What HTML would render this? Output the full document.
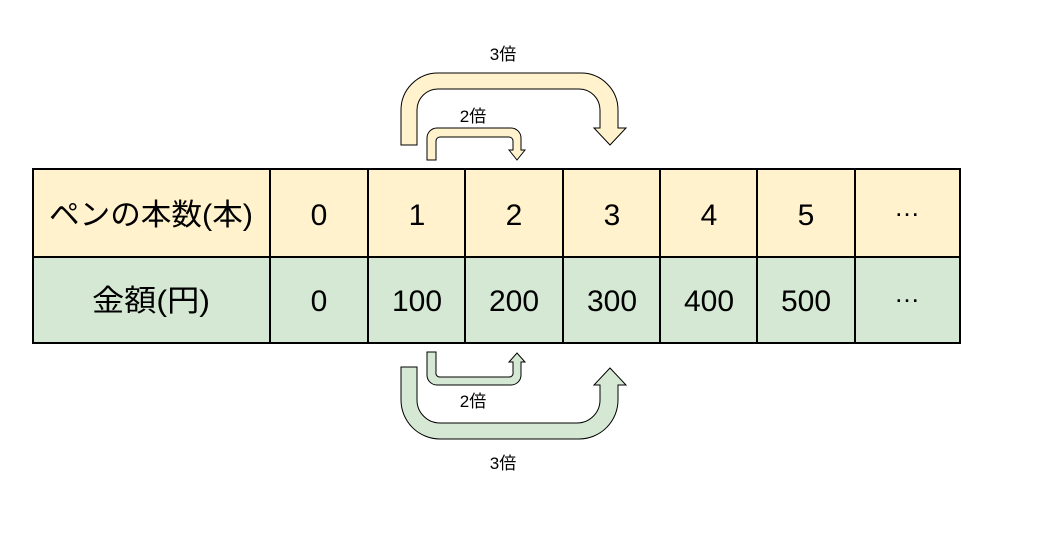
<!DOCTYPE html>
<html><head><meta charset="utf-8"><style>
html,body{margin:0;padding:0;background:#fff;}
svg{display:block;}
text{font-family:"Liberation Sans","Noto Sans CJK JP",sans-serif;fill:#000;}
</style></head><body>
<svg width="1051" height="542" viewBox="0 0 1051 542" xmlns="http://www.w3.org/2000/svg">
<rect x="33" y="169" width="927" height="88" fill="#fff2cc"/>
<rect x="33" y="257" width="927" height="86" fill="#d5e8d4"/>
<g stroke="#000" stroke-width="2" fill="none">
<rect x="33" y="169" width="927" height="174"/>
<line x1="33" y1="257" x2="960" y2="257"/>
<line x1="270" y1="169" x2="270" y2="343"/>
<line x1="368" y1="169" x2="368" y2="343"/>
<line x1="465" y1="169" x2="465" y2="343"/>
<line x1="563" y1="169" x2="563" y2="343"/>
<line x1="660" y1="169" x2="660" y2="343"/>
<line x1="757" y1="169" x2="757" y2="343"/>
<line x1="855" y1="169" x2="855" y2="343"/>
</g>
<g font-size="30" text-anchor="middle">
<text x="151" y="225" textLength="204" lengthAdjust="spacingAndGlyphs">ペンの本数(本)</text>
<text x="319" y="225">0</text><text x="417" y="225">1</text><text x="514" y="225">2</text>
<text x="612" y="225">3</text><text x="709" y="225">4</text><text x="806" y="225">5</text>
<text x="907" y="216" font-size="26">…</text>
<text x="151" y="311" textLength="118" lengthAdjust="spacingAndGlyphs">金額(円)</text>
<text x="319" y="311">0</text><text x="417" y="311">100</text><text x="514" y="311">200</text>
<text x="612" y="311">300</text><text x="709" y="311">400</text><text x="806" y="311">500</text>
<text x="907" y="302" font-size="26">…</text>
</g>
<g fill="#fff2cc" stroke="#000" stroke-width="1">
<path d="M401,145 V110 A37,37 0 0 1 438,73 H581 A37,37 0 0 1 618,110 V128 H626 L610,145 L594,128 H600 V110 A21,21 0 0 0 579,89 H438 A21,21 0 0 0 417,110 V145 Z"/>
<path d="M427,160 V138 A10,10 0 0 1 437,128 H511 A10,10 0 0 1 521,138 V150 H525 L517,160 L509,150 H513 V141 A4,4 0 0 0 509,137 H440 A4,4 0 0 0 436,141 V160 Z"/>
<path fill="#d5e8d4" d="M427,352 V375 A10,10 0 0 0 437,385 H511 A10,10 0 0 0 521,375 V362 H525 L517,353 L509,362 H513 V372 A4,4 0 0 1 509,377 H440 A4,4 0 0 1 436,372 V352 Z"/>
<path fill="#d5e8d4" d="M401,367 V400 A39,39 0 0 0 440,439 H579 A39,39 0 0 0 618,400 V385 H626 L610,368 L594,385 H600 V400 A23,23 0 0 1 577,423 H440 A23,23 0 0 1 417,400 V367 Z"/>
</g>
<g font-size="17" text-anchor="middle">
<text x="503" y="60">3倍</text>
<text x="473" y="122">2倍</text>
<text x="473" y="407">2倍</text>
<text x="503" y="469">3倍</text>
</g>
</svg>
</body></html>
